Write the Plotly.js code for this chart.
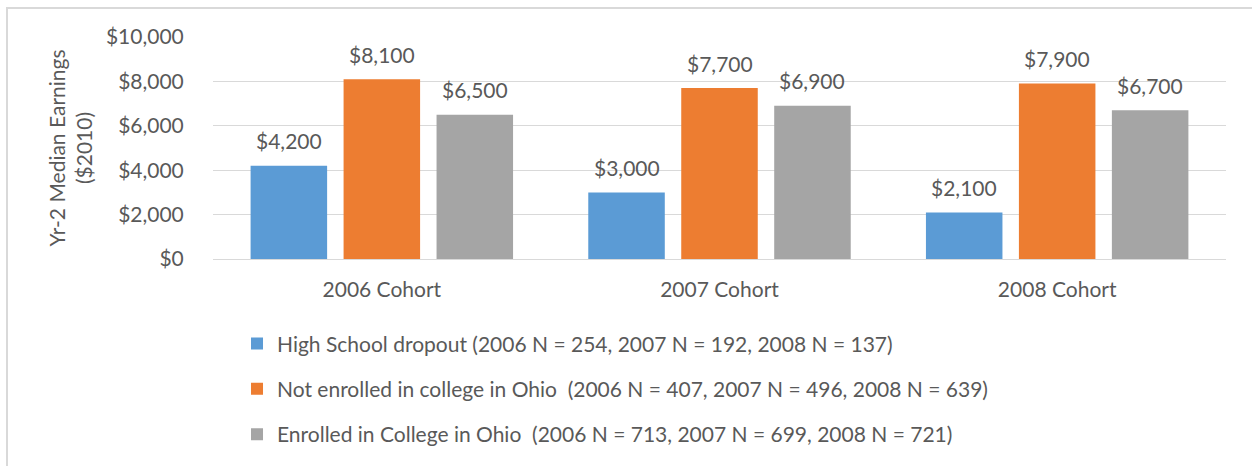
<!DOCTYPE html>
<html>
<head>
<meta charset="utf-8">
<script src="https://cdn.plot.ly/plotly-3.0.1.min.js"></script>
<style>
  html, body { margin: 0; padding: 0; background: #ffffff; }
  #wrap { position: relative; width: 1252px; height: 466px; overflow: hidden; }
  #chart { position: absolute; left: 0; top: 0; width: 1252px; height: 466px; }
  #frame { position: absolute; left: 6px; top: 7px; width: 1260px; height: 480px;
           border-top: 2px solid #d9d9d9; border-left: 2px solid #d9d9d9; pointer-events: none; }
</style>
</head>
<body>
<div id="wrap">
  <div id="chart"></div>
  <div id="frame"></div>
</div>
<script>
// ---- data ----
const categories = ["2006 Cohort", "2007 Cohort", "2008 Cohort"];
const seriesNames = [
  "High School dropout (2006 N = 254, 2007 N = 192, 2008 N = 137)",
  "Not enrolled in college in Ohio  (2006 N = 407, 2007 N = 496, 2008 N = 639)",
  "Enrolled in College in Ohio  (2006 N = 713, 2007 N = 699, 2008 N = 721)"
];
const dropout = [4200, 3000, 2100];
const notEnrolled = [8100, 7700, 7900];
const enrolled = [6500, 6900, 6700];
const yTickVals = [0, 2000, 4000, 6000, 8000, 10000];
const yTickText = ["$0", "$2,000", "$4,000", "$6,000", "$8,000", "$10,000"];
const yTitle = "Yr-2 Median Earnings<br>($2010)";

// ---- style ----
const colors = ["#5b9bd5", "#ed7d31", "#a5a5a5"];
const textColor = "#595959";
const fontFamily = "Lato, 'Liberation Sans', Arial, sans-serif";
const fs = 21;
const bargap = 0.174;
const bargroupgap = 0.177;

const allSeries = [dropout, notEnrolled, enrolled];

const traces = allSeries.map((vals, k) => ({
  type: "bar",
  name: seriesNames[k],
  x: categories,
  y: vals,
  marker: { color: colors[k], line: { width: 0 } },
  legendgroup: "g" + k,
  hoverinfo: "skip"
}));

// value labels above bars, positioned via category index + group offset
const slot = (1 - bargap) / allSeries.length;
const annotations = [];
allSeries.forEach((vals, k) => {
  vals.forEach((v, i) => {
    annotations.push({
      x: i + (k - (allSeries.length - 1) / 2) * slot,
      y: v,
      xref: "x", yref: "y",
      text: "$" + v.toLocaleString("en-US"),
      showarrow: false,
      yanchor: "middle",
      yshift: 25,
      font: { family: fontFamily, size: fs, color: textColor }
    });
  });
});

const layout = {
  width: 1252,
  height: 466,
  margin: { l: 213, r: 26, t: 37, b: 205 },
  paper_bgcolor: "#ffffff",
  plot_bgcolor: "#ffffff",
  barmode: "group",
  bargap: bargap,
  bargroupgap: bargroupgap,
  font: { family: fontFamily, size: fs, color: textColor },
  showlegend: true,
  legend: {
    orientation: "v",
    x: 0.0237, xanchor: "left",
    y: -0.29, yanchor: "top",
    font: { family: fontFamily, size: fs, color: textColor },
    tracegroupgap: 15,
    traceorder: "grouped",
    bgcolor: "rgba(0,0,0,0)"
  },
  xaxis: {
    type: "category",
    showgrid: false,
    showline: false,
    zeroline: false,
    ticks: "outside",
    ticklen: 12,
    tickcolor: "rgba(0,0,0,0)",
    tickfont: { family: fontFamily, size: fs, color: textColor },
    fixedrange: true
  },
  yaxis: {
    range: [0, 10000],
    tickvals: yTickVals,
    ticktext: yTickText,
    showgrid: true,
    gridcolor: "#d9d9d9",
    gridwidth: 1,
    zeroline: true,
    zerolinecolor: "#d9d9d9",
    zerolinewidth: 1,
    showline: false,
    ticks: "outside",
    ticklen: 24,
    tickcolor: "rgba(0,0,0,0)",
    tickfont: { family: fontFamily, size: fs, color: textColor },
    title: { text: yTitle, font: { family: fontFamily, size: fs, color: textColor }, standoff: 7 },
    automargin: false,
    fixedrange: true
  },
  annotations: annotations
};

Plotly.newPlot("chart", traces, layout, { displayModeBar: false, staticPlot: true });
</script>
</body>
</html>
